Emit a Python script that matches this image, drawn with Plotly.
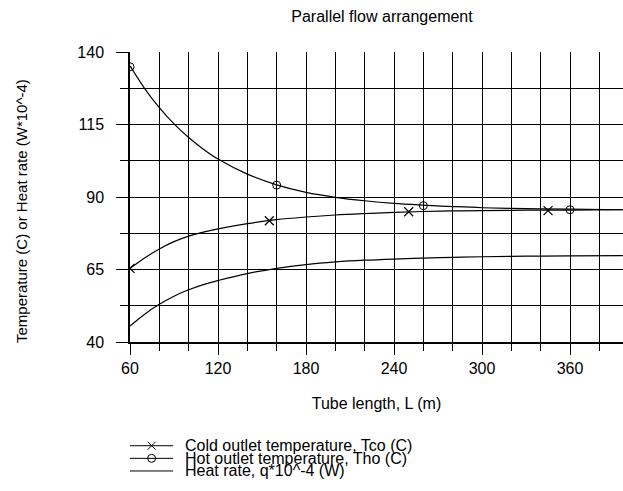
import plotly.graph_objects as go

# ---- data ----
tube_length = [60, 70, 80, 90, 100, 110, 120, 140, 160, 180, 200, 220, 240, 260, 280, 300, 330, 360, 396]
tho = [135.2, 127.4, 120.8, 115.2, 110.5, 106.5, 103.1, 97.9, 94.2, 91.6, 89.9, 88.7, 87.8, 87.2, 86.7, 86.3, 86.0, 85.8, 85.6]
tco = [65.4, 69.0, 72.1, 74.6, 76.5, 77.9, 79.0, 80.8, 82.2, 83.1, 83.8, 84.3, 84.7, 85.0, 85.2, 85.3, 85.45, 85.5, 85.6]
heat = [45.5, 49.6, 53.0, 55.8, 58.0, 59.8, 61.2, 63.6, 65.4, 66.7, 67.6, 68.2, 68.6, 68.9, 69.2, 69.4, 69.6, 69.7, 69.8]

tco_marker_x = [60, 155, 250, 345]
tco_marker_y = [65.4, 81.8, 84.9, 85.3]
tho_marker_x = [60, 160, 260, 360]
tho_marker_y = [134.9, 94.1, 87.0, 85.6]

legend_labels = ["Cold outlet temperature, Tco (C)",
                 "Hot outlet temperature, Tho (C)",
                 "Heat rate, q*10^-4 (W)"]
legend_symbols = ["x-thin-open", "circle-open", None]

title_text = "Parallel flow arrangement"
x_title = "Tube length, L (m)"
y_title = "Temperature (C) or Heat rate (W*10^-4)"

FONT = "Liberation Sans, Arial, sans-serif"
W, H = 623, 491
LINE = dict(color="black", width=1.2)

fig = go.Figure()

for yv in (tho, tco, heat):
    fig.add_trace(go.Scatter(x=tube_length, y=yv, mode="lines", line=dict(LINE, shape="spline"),
                             showlegend=False, hoverinfo="skip"))

fig.add_trace(go.Scatter(x=tco_marker_x, y=tco_marker_y, mode="markers", showlegend=False,
                         marker=dict(symbol="x-thin-open", size=9, color="black",
                                     line=dict(color="black", width=1.2))))
fig.add_trace(go.Scatter(x=tho_marker_x, y=tho_marker_y, mode="markers", showlegend=False,
                         marker=dict(symbol="circle-open", size=8, color="black",
                                     line=dict(color="black", width=1))))

# ---- custom compact legend on its own hidden axes ----
for i, (lab, sym) in enumerate(zip(legend_labels, legend_symbols)):
    fig.add_trace(go.Scatter(x=[0, 1], y=[i, i], mode="lines", line=dict(color="black", width=1),
                             xaxis="x2", yaxis="y2", showlegend=False, hoverinfo="skip"))
    if sym:
        fig.add_trace(go.Scatter(x=[0.5], y=[i], mode="markers", xaxis="x2", yaxis="y2",
                                 showlegend=False, hoverinfo="skip",
                                 marker=dict(symbol=sym, size=8, color="black",
                                             line=dict(color="black", width=1))))
    fig.add_annotation(text=lab, xref="paper", yref="y2", x=(184 - 130) / 493, y=i,
                       xanchor="left", yanchor="middle", showarrow=False, borderpad=0,
                       font=dict(family=FONT, size=16, color="black"))

# y title as rotated annotation
fig.add_annotation(text=y_title, xref="paper", yref="paper", x=(21 - 130) / 493,
                   y=(491 - 211) / 439, textangle=-90, xanchor="center", yanchor="middle",
                   showarrow=False, font=dict(family=FONT, size=15, color="black"))

main_dom_bottom = (491 - 342) / 439

fig.update_layout(
    width=W, height=H,
    margin=dict(l=130, r=0, t=52, b=0, autoexpand=False),
    paper_bgcolor="white", plot_bgcolor="white",
    font=dict(family=FONT, size=16, color="black"),
    title=dict(text=title_text, x=382 / W, xref="container", xanchor="center",
               y=1 - 16 / H, yref="container", yanchor="middle",
               font=dict(family=FONT, size=16, color="black")),
    showlegend=False,
    xaxis=dict(range=[60, 396.1], tick0=60, dtick=60, showgrid=True, gridcolor="black", gridwidth=1,
               ticks="outside", ticklen=11, tickcolor="black", tickwidth=1,
               showline=True, linecolor="black", linewidth=1.5, zeroline=False,
               minor=dict(tick0=60, dtick=20, showgrid=True, gridcolor="black", gridwidth=1,
                          ticks="outside", ticklen=7, tickcolor="black"),
               title=dict(text=x_title, standoff=22, font=dict(family=FONT, size=16)),
               tickfont=dict(family=FONT, size=16), anchor="y", automargin=False),
    yaxis=dict(range=[40, 140], domain=[main_dom_bottom, 1], tick0=40, dtick=25,
               showgrid=True, gridcolor="black", gridwidth=1,
               ticks="outside", ticklen=12, tickcolor="black", tickwidth=1,
               showline=True, linecolor="black", linewidth=1.5, zeroline=False,
               minor=dict(tick0=40, dtick=12.5, showgrid=True, gridcolor="black", gridwidth=1,
                          ticks="outside", ticklen=8, tickcolor="black"),
               ticklabelstandoff=9,
               tickfont=dict(family=FONT, size=16), anchor="x", automargin=False),
    xaxis2=dict(domain=[0, 43.3 / 493], range=[0, 1], visible=False, anchor="y2"),
    yaxis2=dict(domain=[(491 - 477.3) / 439, (491 - 439.4) / 439], range=[2.5, -0.5],
                visible=False, anchor="x2"),
)

fig.write_html("out.html", config={"displayModeBar": False},
               post_script="document.body.style.margin='0';document.body.style.overflow='hidden';")
